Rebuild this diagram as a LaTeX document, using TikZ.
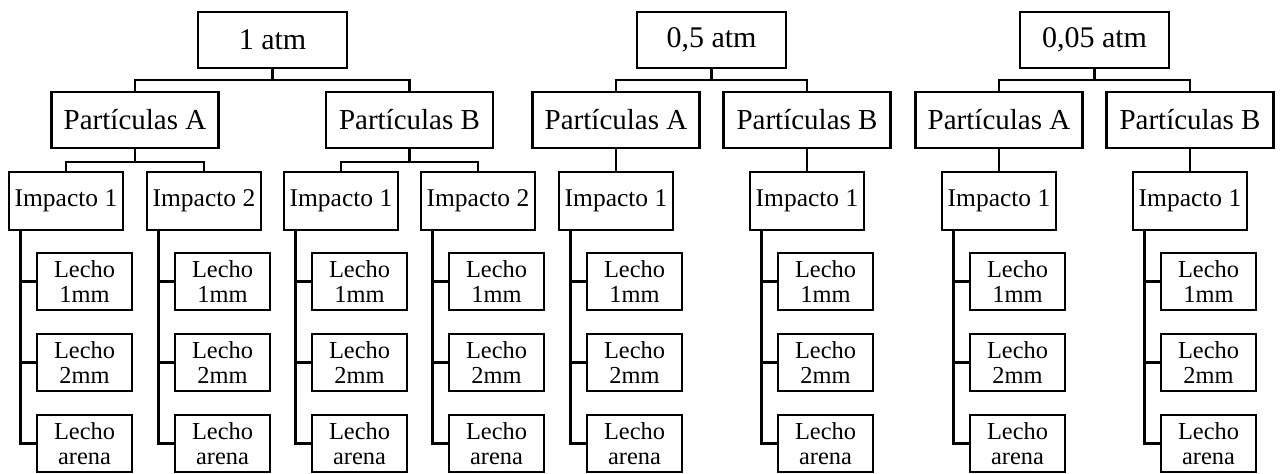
\documentclass[tikz,border=0pt]{standalone}
\usepackage{fontspec}
\setmainfont{Liberation Serif}
\begin{document}
\begin{tikzpicture}[x=0.5pt,y=-0.5pt,
  box/.style={draw,line width=1.3pt,rectangle,inner sep=0pt,outer sep=0pt},
  topbox/.style={box,minimum width=74.5pt,minimum height=28pt,font=\fontsize{15}{18}\selectfont},
  partbox/.style={box,minimum width=83.5pt,minimum height=28pt,font=\fontsize{14.5}{17}\selectfont},
  impbox/.style={box,minimum width=57pt,minimum height=29pt,font=\fontsize{12.75}{15}\selectfont},
  lechobox/.style={box,minimum width=47.5pt,minimum height=28.5pt,align=center,font=\fontsize{12.2}{12.6}\selectfont},
  conn/.style={line width=1.3pt}]
\useasboundingbox (0,0) rectangle (1280,473);
% top level
\node[topbox] (t1) at (272.5,40) {1 atm};
\node[topbox] (t2) at (711.5,40) {0,5 atm};
\node[topbox] (t3) at (1094.5,40) {0,05 atm};
% particle level
\node[partbox] (pA1) at (135,120) {Partículas A};
\node[partbox] (pB1) at (409.5,120) {Partículas B};
\node[partbox] (pA2) at (616,120) {Partículas A};
\node[partbox] (pB2) at (807,120) {Partículas B};
\node[partbox] (pA3) at (999,120) {Partículas A};
\node[partbox] (pB3) at (1190,120) {Partículas B};
% impact level and beds
\foreach \n/\x/\k in {11/66/1,12/204/2,13/341/1,14/478/2,21/616/1,22/807/1,31/999/1,32/1190/1}{
  \node[impbox] (i\n) at (\x,201) {Impacto \k};
  \node[lechobox] (l\n-a) at (\x+18.5,281.5) {Lecho\\1mm};
  \node[lechobox] (l\n-b) at (\x+18.5,362.5) {Lecho\\2mm};
  \node[lechobox] (l\n-c) at (\x+18.5,443.5) {Lecho\\arena};
  \coordinate (k\n) at ([xshift=-22.75pt]i\n.south);
  \draw[conn] (k\n) |- (l\n-a.west);
  \draw[conn] (k\n) |- (l\n-b.west);
  \draw[conn] (k\n) |- (l\n-c.west);
}
% top connectors
\foreach \t/\a/\b in {t1/pA1/pB1,t2/pA2/pB2,t3/pA3/pB3}{
  \coordinate (\t-j) at ([yshift=-6pt]\t.south);
  \draw[conn] (\t.south) -- (\t-j);
  \draw[conn] (\t-j) -| (\a.north);
  \draw[conn] (\t-j) -| (\b.north);
}
% particle connectors (two children)
\foreach \p/\a/\b in {pA1/i11/i12,pB1/i13/i14}{
  \coordinate (\p-j) at ([yshift=-7pt]\p.south);
  \draw[conn] (\p.south) -- (\p-j);
  \draw[conn] (\p-j) -| (\a.north);
  \draw[conn] (\p-j) -| (\b.north);
}
% particle connectors (single child)
\draw[conn] (pA2.south) -- (i21.north);
\draw[conn] (pB2.south) -- (i22.north);
\draw[conn] (pA3.south) -- (i31.north);
\draw[conn] (pB3.south) -- (i32.north);
\end{tikzpicture}
\end{document}
